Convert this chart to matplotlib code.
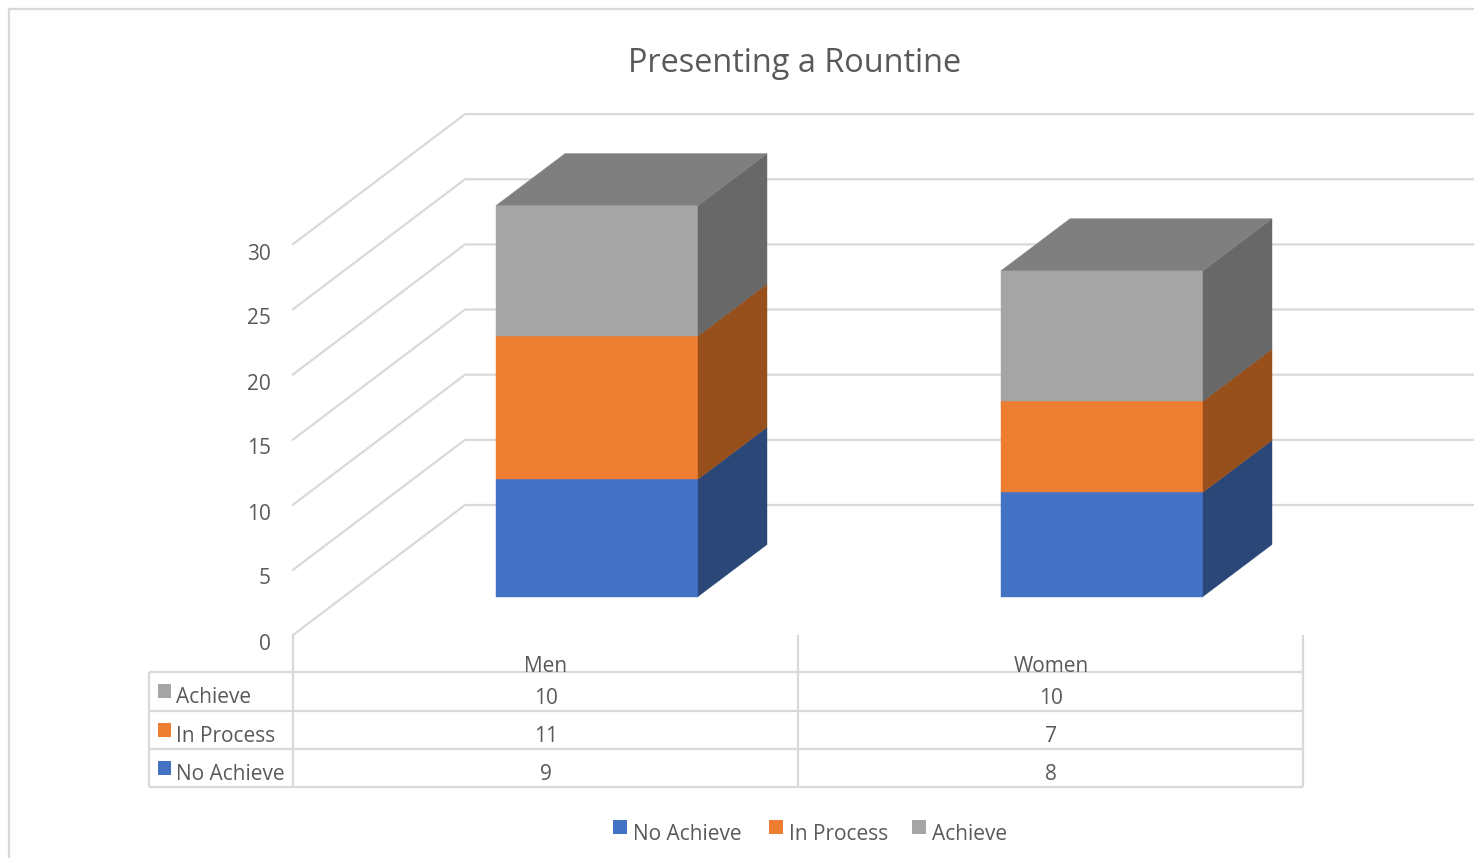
import matplotlib
matplotlib.use("Agg")
import matplotlib.pyplot as plt
from matplotlib.patches import Polygon, Rectangle

plt.rcParams["font.family"] = ["Open Sans", "DejaVu Sans"]

categories = ["Men", "Women"]
no_achieve = [9, 8]
in_process = [11, 7]
achieve = [10, 10]
y_ticks = [0, 5, 10, 15, 20, 25, 30]
title = "Presenting a Rountine"

# stacking order bottom -> top
series = [
    ("No Achieve", no_achieve, "#4472C4", "#2A4778"),
    ("In Process", in_process, "#ED7D31", "#974F1C"),
    ("Achieve", achieve, "#A5A5A5", "#686868"),
]
TOP_COLOR = "#7F7F7F"
LINE = "#D9D9D9"
TEXT = "#595959"

W, H = 1474, 858
fig = plt.figure(figsize=(W / 100, H / 100), dpi=100)

# pixel layer for frame, table and legend
ax_px = fig.add_axes([0, 0, 1, 1], zorder=3)
ax_px.set_xlim(0, W)
ax_px.set_ylim(H, 0)
ax_px.axis("off")
ax_px.patch.set_alpha(0)

# data layer: x in categories, y in value units
PX_X = 505.0
PX_Y = 13.03
X0, Y0 = 597, 596.5
ax = fig.add_axes([0, 0, 1, 1], zorder=1)
ax.set_xlim(-X0 / PX_X, (W - X0) / PX_X)
ax.set_ylim((Y0 - H) / PX_Y, Y0 / PX_Y)
ax.axis("off")

bar_w = 202 / PX_X
depth_x = 69 / PX_X
depth_y = 52 / PX_Y

# gridlines on floor side and back wall
grid_x0 = (293 - X0) / PX_X
grid_x1 = (465 - X0) / PX_X
grid_drop = (635 - Y0) / PX_Y
grid_rise = 130 / PX_Y
x_end = (W - X0) / PX_X
for v in y_ticks:
    y0 = v - grid_drop
    ax.plot([grid_x0, grid_x1, x_end], [y0, y0 + grid_rise, y0 + grid_rise],
            color=LINE, lw=1.6, zorder=1, solid_joinstyle="miter")
    ax_px.text(271, 635 - 13 * v + 9, str(v), ha="right", va="center",
               fontsize=15, color=TEXT)

# 3D stacked bars
for i in range(len(categories)):
    bottom = 0
    left = i - bar_w / 2
    right = i + bar_w / 2
    for name, vals, face, side in series:
        top = bottom + vals[i]
        ax.add_patch(Rectangle((left, bottom), bar_w, vals[i], fc=face, ec=face, lw=0.3, zorder=3))
        ax.add_patch(Polygon([(right, bottom), (right + depth_x, bottom + depth_y),
                              (right + depth_x, top + depth_y), (right, top)],
                             fc=side, ec=side, lw=0.3, zorder=3))
        bottom = top
    ax.add_patch(Polygon([(left, bottom), (right, bottom),
                          (right + depth_x, bottom + depth_y), (left + depth_x, bottom + depth_y)],
                         fc=TOP_COLOR, ec=TOP_COLOR, lw=0.3, zorder=3))

# outer frame
ax_px.plot([9, 9], [H, 9], color=LINE, lw=1.6)
ax_px.plot([9, W], [9, 9], color=LINE, lw=1.6)

ax_px.text(795, 63, title, ha="center", va="center", fontsize=23.4, color=TEXT)

# data table
col_x = [293, 798, 1303]
row_y = [672, 710.5, 749, 787]
for x in col_x:
    ax_px.plot([x, x], [635, 787], color=LINE, lw=1.6, solid_capstyle="butt")
ax_px.plot([149, 149], [672, 787], color=LINE, lw=1.6, solid_capstyle="butt")
for y in row_y:
    ax_px.plot([149, 1303], [y, y], color=LINE, lw=1.6, solid_capstyle="butt")

for i, c in enumerate(categories):
    xc = (col_x[i] + col_x[i + 1]) / 2 + 0.5
    ax_px.text(xc, 666, c, ha="center", va="center", fontsize=15, color=TEXT)
    for r, (name, vals, face, side) in enumerate(reversed(series)):
        ax_px.text(xc, row_y[r] + 26, str(vals[i]), ha="center", va="center",
                   fontsize=15, color=TEXT)

for r, (name, vals, face, side) in enumerate(reversed(series)):
    ax_px.add_patch(Rectangle((158, row_y[r] + 12), 13, 14, fc=face, ec="none"))
    ax_px.text(176, row_y[r] + 25.5, name, ha="left", va="center", fontsize=15, color=TEXT)

# legend
legend_x = [613, 769, 912]
for lx, (name, vals, face, side) in zip(legend_x, series):
    ax_px.add_patch(Rectangle((lx, 820), 14, 14, fc=face, ec="none"))
    ax_px.text(lx + 20, 835, name, ha="left", va="center", fontsize=15, color=TEXT)

fig.savefig("out.png", dpi=100, facecolor="white")
